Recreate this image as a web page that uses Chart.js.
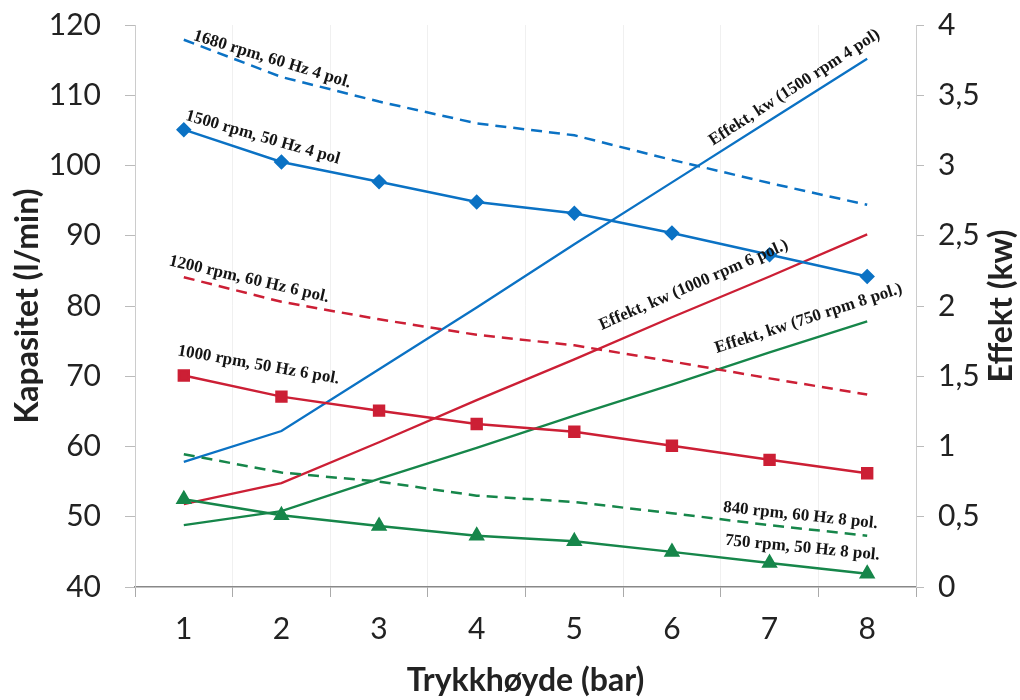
<!DOCTYPE html>
<html>
<head>
<meta charset="utf-8">
<script src="https://cdn.jsdelivr.net/npm/chart.js@4.4.1/dist/chart.umd.min.js"></script>
<style>
  html, body { margin: 0; padding: 0; background: #fff; }
  #wrap { width: 1020px; height: 700px; }
</style>
</head>
<body>
<div id="wrap"><canvas id="pumpChart"></canvas></div>
<script>
// Data
const pressure = ['1', '2', '3', '4', '5', '6', '7', '8'];

// Kapasitet (l/min), left axis
const cap1680 = [117.9, 112.6, 109.1, 106.0, 104.3, 100.8, 97.5, 94.4];
const cap1500 = [105.1, 100.5, 97.7, 94.8, 93.2, 90.4, 87.3, 84.2];
const cap1200 = [84.1, 80.6, 78.1, 75.9, 74.4, 72.1, 69.7, 67.4];
const cap1000 = [70.1, 67.1, 65.1, 63.2, 62.1, 60.1, 58.1, 56.2];
const cap840 = [58.9, 56.3, 55.0, 53.0, 52.1, 50.5, 48.8, 47.3];
const cap750 = [52.5, 50.2, 48.7, 47.3, 46.5, 45.0, 43.4, 41.9];

// Effekt (kw), right axis
const eff1500 = [0.89, 1.11, 1.55, 1.99, 2.44, 2.88, 3.32, 3.76];
const eff1000 = [0.59, 0.74, 1.03, 1.33, 1.62, 1.92, 2.21, 2.51];
const eff750 = [0.44, 0.54, 0.77, 0.99, 1.22, 1.44, 1.67, 1.89];

const leftTicks = [40, 50, 60, 70, 80, 90, 100, 110, 120];
const rightTicks = ['0', '0,5', '1', '1,5', '2', '2,5', '3', '3,5', '4'];

// line labels: x = category index, y = left axis value, angle in degrees
const lineLabels = [
  { text: '1680 rpm, 60 Hz 4 pol.', x: 0.09, y: 117.9, angle: 17 },
  { text: '1500 rpm, 50 Hz 4 pol', x: 0.01, y: 106.5, angle: 16 },
  { text: '1200 rpm, 60 Hz 6 pol.', x: -0.16, y: 85.8, angle: 13 },
  { text: '1000 rpm, 50 Hz 6 pol.', x: -0.07, y: 73.0, angle: 10 },
  { text: '840 rpm, 60 Hz 8 pol.', x: 5.52, y: 50.7, angle: 6 },
  { text: '750 rpm, 50 Hz 8 pol.', x: 5.54, y: 46.0, angle: 5.5 },
  { text: 'Effekt, kw (1500 rpm 4 pol)', x: 5.42, y: 102.8, angle: -33 },
  { text: 'Effekt, kw (1000 rpm 6 pol.)', x: 4.28, y: 76.6, angle: -23.5 },
  { text: 'Effekt, kw (750 rpm 8 pol.)', x: 5.46, y: 73.3, angle: -18 }
];

const BLUE = '#0b72c4';
const RED = '#cc1f35';
const GREEN = '#16864a';
const DASH = [11, 7];

function line(label, data, color, axis, opts) {
  return Object.assign({
    label: label,
    data: data,
    yAxisID: axis,
    borderColor: color,
    backgroundColor: color,
    borderWidth: 2.5,
    pointRadius: 0,
    tension: 0,
    fill: false
  }, opts || {});
}

const datasets = [
  line('1680 rpm', cap1680, BLUE, 'y', { borderDash: DASH }),
  line('1500 rpm', cap1500, BLUE, 'y', { pointStyle: 'rectRot', pointRadius: 6 }),
  line('1200 rpm', cap1200, RED, 'y', { borderDash: DASH }),
  line('1000 rpm', cap1000, RED, 'y', { pointStyle: 'rect', pointRadius: 7 }),
  line('840 rpm', cap840, GREEN, 'y', { borderDash: DASH }),
  line('750 rpm', cap750, GREEN, 'y', { pointStyle: 'triangle', pointRadius: 7 }),
  line('Effekt 1500', eff1500, BLUE, 'y1', { borderWidth: 2.3 }),
  line('Effekt 1000', eff1000, RED, 'y1', { borderWidth: 2.3 }),
  line('Effekt 750', eff750, GREEN, 'y1', { borderWidth: 2.3 })
];

// text along the lines + right axis title (reads bottom to top like the left one)
const labelPlugin = {
  id: 'lineLabels',
  afterDatasetsDraw(chart) {
    const ctx = chart.ctx;
    const xs = chart.scales.x, ys = chart.scales.y;
    ctx.save();
    ctx.fillStyle = '#151515';
    ctx.font = 'bold 17px "Liberation Serif", "DejaVu Serif", serif';
    ctx.textAlign = 'left';
    ctx.textBaseline = 'alphabetic';
    lineLabels.forEach(l => {
      const px = xs.getPixelForValue(l.x);
      const py = ys.getPixelForValue(l.y);
      ctx.save();
      ctx.translate(px, py);
      ctx.rotate(l.angle * Math.PI / 180);
      ctx.fillText(l.text, 0, 0);
      ctx.restore();
    });
    ctx.restore();

    const area = chart.chartArea;
    ctx.save();
    ctx.fillStyle = '#222';
    ctx.font = 'bold 32px Lato, "Open Sans", sans-serif';
    ctx.textAlign = 'center';
    ctx.textBaseline = 'middle';
    ctx.translate(1002, (area.top + area.bottom) / 2);
    ctx.rotate(-Math.PI / 2);
    ctx.fillText('Effekt (kw)', 0, 0);
    ctx.restore();
  }
};

// keep the plot box where the reference has it (no extra room for tick label halves)
function fixVertical(width) {
  return function (scale) {
    scale.width = width;
    scale.paddingTop = 0;
    scale.paddingBottom = 0;
  };
}

const tickFont = { family: 'Lato, "Open Sans", sans-serif', size: 30 };
const titleFont = { family: 'Lato, "Open Sans", sans-serif', size: 32, weight: 'bold' };

const ctx = document.getElementById('pumpChart').getContext('2d');
const pumpChart = new Chart(ctx, {
  type: 'line',
  data: { labels: pressure, datasets: datasets },
  plugins: [labelPlugin],
  options: {
    responsive: true,
    maintainAspectRatio: false,
    animation: false,
    layout: { padding: { top: 25, left: 0, right: 0, bottom: 0 } },
    plugins: {
      legend: { display: false },
      tooltip: { enabled: false }
    },
    scales: {
      x: {
        offset: true,
        grid: {
          offset: true,
          color: 'rgba(0,0,0,0.06)',
          tickColor: '#aaa',
          tickLength: 10,
          lineWidth: 1
        },
        border: { color: '#888', width: 1.5 },
        ticks: { color: '#222', font: tickFont, padding: 14 },
        title: {
          display: true,
          text: 'Trykkhøyde (bar)',
          color: '#222',
          font: titleFont,
          padding: { top: 4, bottom: 0 }
        },
        afterFit(scale) {
          scale.height = 113;
          scale.paddingLeft = 0;
          scale.paddingRight = 0;
        }
      },
      y: {
        position: 'left',
        min: 40,
        max: 120,
        afterBuildTicks(scale) { scale.ticks = leftTicks.map(v => ({ value: v })); },
        grid: { drawOnChartArea: false, tickColor: '#bbb', tickLength: 10 },
        border: { color: '#ccc' },
        ticks: { color: '#222', font: tickFont, padding: 24 },
        title: {
          display: true,
          text: 'Kapasitet (l/min)',
          color: '#222',
          font: titleFont,
          padding: { top: 8, bottom: 0 }
        },
        afterFit: fixVertical(135)
      },
      y1: {
        position: 'right',
        min: 0,
        max: 4,
        afterBuildTicks(scale) {
          scale.ticks = rightTicks.map((t, i) => ({ value: i * 0.5 }));
        },
        grid: { drawOnChartArea: false, tickColor: '#bbb', tickLength: 8 },
        border: { color: '#ccc' },
        ticks: {
          color: '#222',
          font: tickFont,
          padding: 14,
          callback: (v, i) => rightTicks[i]
        },
        afterFit: fixVertical(104)
      }
    }
  }
});
</script>
</body>
</html>
